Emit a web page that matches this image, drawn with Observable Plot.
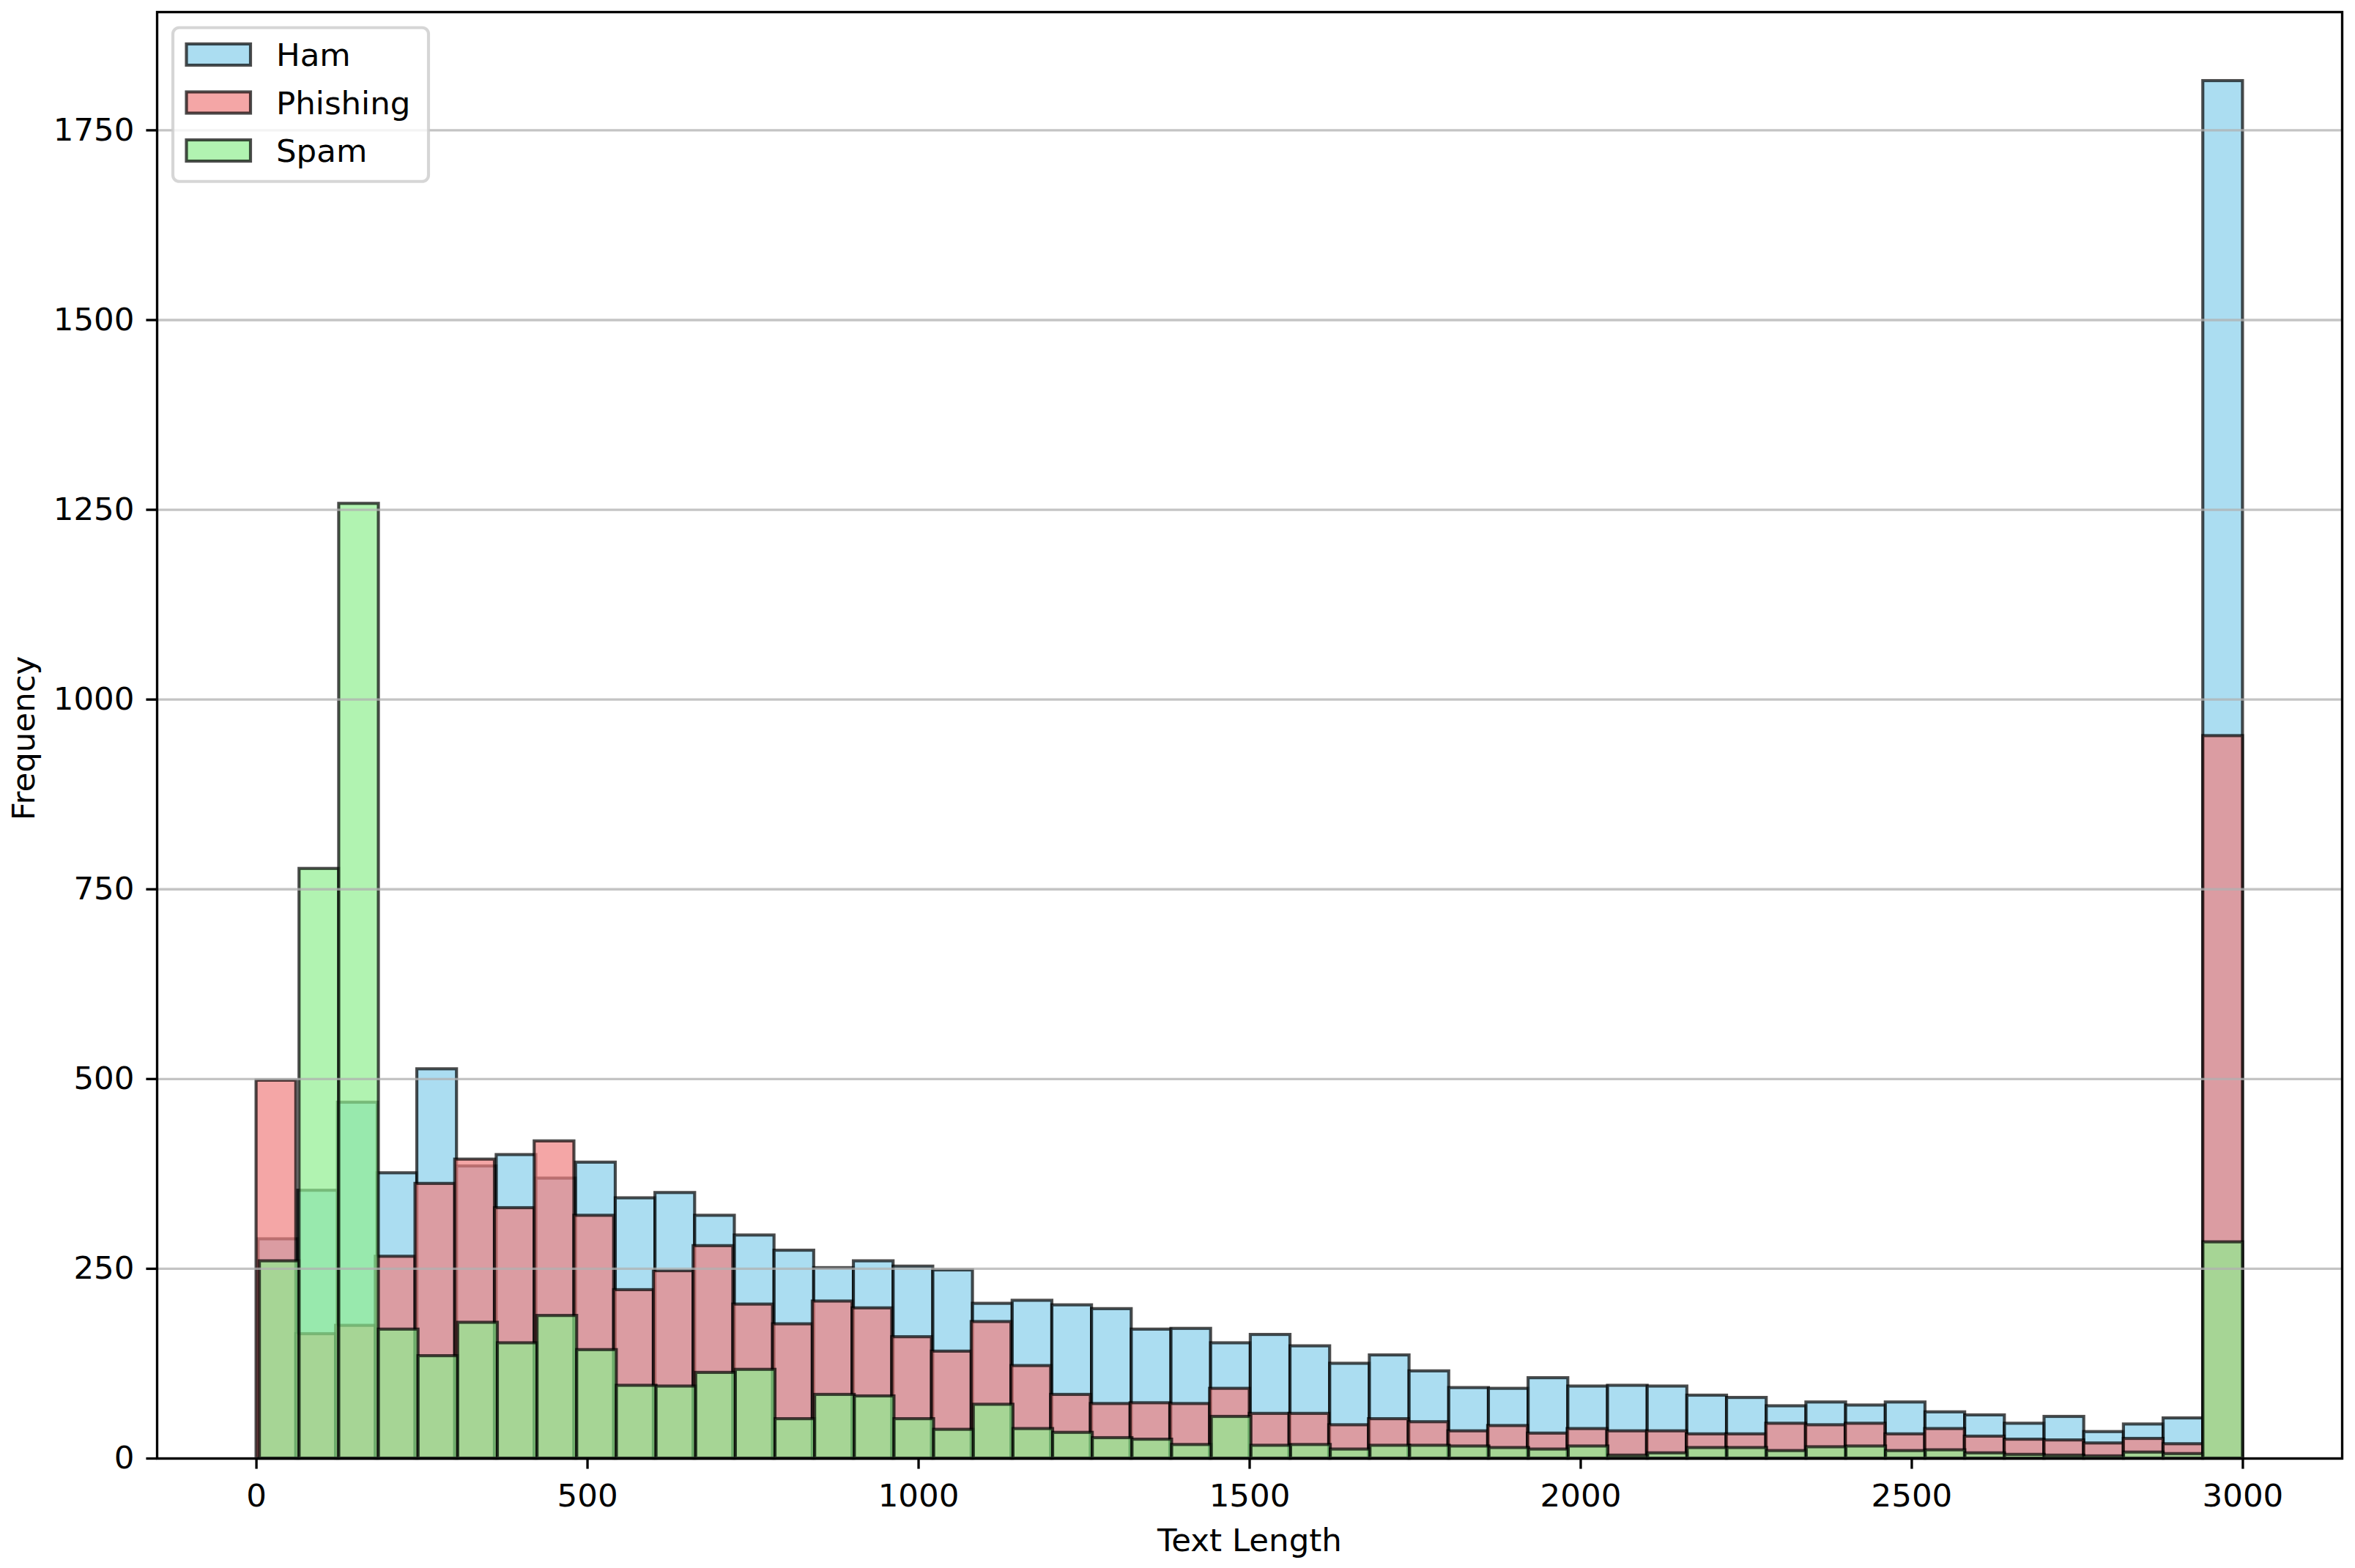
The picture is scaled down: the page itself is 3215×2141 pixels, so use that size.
<!DOCTYPE html>
<html>
<head>
<meta charset="utf-8">
<script src="https://cdn.jsdelivr.net/npm/d3@7"></script>
<script src="https://cdn.jsdelivr.net/npm/@observablehq/plot@0.6"></script>
<style>
  html, body { margin: 0; padding: 0; background: white; overflow: hidden; }
  #chart svg { display: block; }
</style>
</head>
<body>
<div id="chart"></div>
<script>
// ---- Data (50 bins up to length 3000) ----
const seriesNames = ["Ham", "Phishing", "Spam"];
const seriesColors = ["#87CEEB", "#F08080", "#90EE90"];
const binCount = 50;
const binEnd = 3000;
// each series' histogram starts at its own minimum text length
const binStarts = [3, 0, 5];

const hamCounts = [289, 353, 469, 376, 513, 385, 400, 369, 390, 343,
                   350, 320, 294, 274, 251, 260, 253, 248, 204, 208,
                   202, 197, 170, 171, 152, 163, 148, 125, 136, 115,
                   93, 92, 106, 95, 96, 95, 83, 80, 69, 74,
                   70, 74, 61, 57, 46, 55, 35, 45, 53, 1815];
const phishingCounts = [498, 164, 175, 266, 362, 394, 330, 418, 320, 222,
                        247, 280, 203, 177, 207, 198, 160, 141, 180, 122,
                        84, 72, 73, 72, 92, 59, 59, 44, 52, 48,
                        36, 43, 33, 39, 36, 36, 32, 32, 46, 44,
                        46, 32, 39, 29, 25, 24, 20, 26, 19, 952];
const spamCounts = [260, 777, 1258, 170, 135, 179, 152, 188, 143, 96,
                    95, 113, 117, 52, 84, 82, 52, 38, 71, 39,
                    34, 27, 25, 18, 55, 17, 18, 12, 17, 17,
                    16, 14, 12, 16, 4, 7, 14, 14, 10, 15,
                    16, 10, 11, 7, 5, 4, 3, 8, 6, 285];

const xTicks = [0, 500, 1000, 1500, 2000, 2500, 3000];
const yTicks = [0, 250, 500, 750, 1000, 1250, 1500, 1750];

// ---- Build bin tables ----
const allCounts = [hamCounts, phishingCounts, spamCounts];
const tables = allCounts.map((counts, s) => {
  const start = binStarts[s];
  const w = (binEnd - start) / binCount;
  return counts.map((c, i) => ({
    series: seriesNames[s],
    x1: start + i * w,
    x2: start + (i + 1) * w,
    count: c
  }));
});

const xMin = d3.min(binStarts);
const xPad = (binEnd - xMin) * 0.05;
const yMax = d3.max(allCounts.flat()) * 1.05;

const FS = 43.5;      // font size (px)
const LW = 4.17;      // patch edge width
const SW = 3.33;      // spine / tick / grid width

const barMarks = tables.map((t, s) =>
  Plot.rect(t, {
    x1: "x1", x2: "x2", y1: 0, y2: "count",
    fill: seriesColors[s], fillOpacity: 0.7,
    stroke: "black", strokeOpacity: 0.7, strokeWidth: LW
  })
);

const chart = Plot.plot({
  width: 3215,
  height: 2141,
  marginLeft: 214,
  marginRight: 18,
  marginTop: 16,
  marginBottom: 150,
  style: {
    fontFamily: "'DejaVu Sans', sans-serif",
    fontSize: FS + "px",
    background: "white",
    color: "black",
    overflow: "visible"
  },
  x: { domain: [xMin - xPad, binEnd + xPad], label: null },
  y: { domain: [0, yMax], label: null },
  marks: [
    ...barMarks,
    Plot.gridY({ ticks: yTicks, stroke: "#b0b0b0", strokeOpacity: 0.75, strokeWidth: SW }),
    Plot.frame({ stroke: "black", strokeWidth: SW }),
    Plot.axisX({
      ticks: xTicks, tickFormat: d => String(d), label: null,
      tickSize: 14.58, tickPadding: 20.4, strokeWidth: SW, fontSize: FS
    }),
    Plot.axisY({
      ticks: yTicks, tickFormat: d => String(d), label: null,
      tickSize: 14.58, tickPadding: 16.5, strokeWidth: SW, fontSize: FS
    }),
    Plot.text(["Text Length"], {
      text: d => d, frameAnchor: "bottom", textAnchor: "middle", lineAnchor: "middle",
      dy: 112.4, fontSize: FS
    }),
    Plot.text(["Frequency"], {
      text: d => d, frameAnchor: "left", textAnchor: "middle", lineAnchor: "middle",
      rotate: -90, dx: -181, dy: 4, fontSize: FS
    })
  ]
});

// ---- Legend (upper left, inside the axes) ----
const svg = d3.select(chart);
const lg = svg.append("g").attr("class", "legend")
  .attr("font-family", "'DejaVu Sans', sans-serif")
  .attr("font-size", FS)
  .attr("text-anchor", "start");
lg.append("rect")
  .attr("x", 236).attr("y", 37.75)
  .attr("width", 349).attr("height", 210)
  .attr("rx", 8.7).attr("ry", 8.7)
  .attr("fill", "white").attr("fill-opacity", 0.8)
  .attr("stroke", "#cccccc").attr("stroke-opacity", 0.8)
  .attr("stroke-width", LW);
const rowCenters = [74.5, 140, 205.5];
seriesNames.forEach((name, i) => {
  const cy = rowCenters[i];
  lg.append("rect")
    .attr("x", 254.5).attr("y", cy - 14.5)
    .attr("width", 87.5).attr("height", 29)
    .attr("fill", seriesColors[i]).attr("fill-opacity", 0.7)
    .attr("stroke", "black").attr("stroke-opacity", 0.7)
    .attr("stroke-width", LW);
  lg.append("text")
    .attr("x", 377).attr("y", cy + 15.6)
    .attr("fill", "black")
    .attr("text-anchor", "start")
    .text(name);
});

document.getElementById("chart").appendChild(chart);
</script>
</body>
</html>
